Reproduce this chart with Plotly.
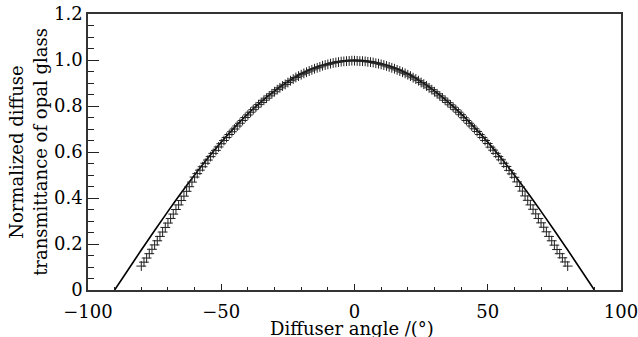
import plotly.graph_objects as go

# Theoretical curve (solid line)
line_angle = [-90, -85, -80, -75, -70, -65, -60, -55, -50, -45, -40, -35, -30, -25, -20, -15, -10, -5,
              0, 5, 10, 15, 20, 25, 30, 35, 40, 45, 50, 55, 60, 65, 70, 75, 80, 85, 90]
line_value = [0.000, 0.087, 0.174, 0.259, 0.342, 0.423, 0.500, 0.574, 0.643, 0.707, 0.766, 0.819,
              0.866, 0.906, 0.940, 0.966, 0.985, 0.996, 1.000, 0.996, 0.985, 0.966, 0.940, 0.906,
              0.866, 0.819, 0.766, 0.707, 0.643, 0.574, 0.500, 0.423, 0.342, 0.259, 0.174, 0.087, 0.000]

# Measured points (+ markers), one per degree from -80 to 80
meas_angle = list(range(-80, 81))
meas_value = [
    0.104, 0.121, 0.139, 0.158, 0.177, 0.196, 0.214, 0.233, 0.252, 0.272,   # -80..-71
    0.291, 0.311, 0.330, 0.350, 0.370, 0.389, 0.408, 0.429, 0.449, 0.469,   # -70..-61
    0.491, 0.506, 0.521, 0.536, 0.551, 0.565, 0.580, 0.594, 0.607, 0.622,   # -60..-51
    0.636, 0.650, 0.663, 0.676, 0.688, 0.700, 0.713, 0.725, 0.737, 0.750,   # -50..-41
    0.761, 0.773, 0.784, 0.795, 0.806, 0.815, 0.825, 0.834, 0.844, 0.853,   # -40..-31
    0.862, 0.871, 0.879, 0.887, 0.894, 0.902, 0.910, 0.917, 0.924, 0.930,   # -30..-21
    0.936, 0.942, 0.947, 0.952, 0.957, 0.962, 0.966, 0.970, 0.975, 0.978,   # -20..-11
    0.981, 0.984, 0.987, 0.989, 0.991, 0.993, 0.994, 0.995, 0.996, 0.997,   # -10..-1
    0.997,                                                                  # 0
    0.996, 0.995, 0.995, 0.994, 0.992, 0.991, 0.989, 0.986, 0.984, 0.981,   # 1..10
    0.978, 0.974, 0.970, 0.966, 0.962, 0.957, 0.952, 0.947, 0.942, 0.936,   # 11..20
    0.930, 0.923, 0.917, 0.910, 0.902, 0.895, 0.887, 0.879, 0.871, 0.862,   # 21..30
    0.853, 0.844, 0.835, 0.825, 0.815, 0.805, 0.795, 0.784, 0.773, 0.762,   # 31..40
    0.749, 0.737, 0.725, 0.713, 0.701, 0.689, 0.676, 0.663, 0.650, 0.637,   # 41..50
    0.621, 0.608, 0.594, 0.580, 0.566, 0.551, 0.537, 0.520, 0.505, 0.490,   # 51..60
    0.470, 0.450, 0.430, 0.409, 0.390, 0.370, 0.351, 0.331, 0.311, 0.292,   # 61..70
    0.273, 0.253, 0.233, 0.214, 0.195, 0.176, 0.158, 0.140, 0.122, 0.104,   # 71..80
]

x_ticks = [-100, -50, 0, 50, 100]
y_ticks = [0, 0.2, 0.4, 0.6, 0.8, 1.0, 1.2]
y_tick_text = ["0", "0.2", "0.4", "0.6", "0.8", "1.0", "1.2"]

FONT = "DejaVu Serif"
FS = 18

fig = go.Figure()
fig.add_trace(go.Scatter(
    x=line_angle, y=line_value, mode="lines",
    line=dict(color="black", width=1.6, shape="spline"),
    showlegend=False,
))
fig.add_trace(go.Scatter(
    x=meas_angle, y=meas_value, mode="markers",
    marker=dict(symbol="cross-thin", size=7, line=dict(color="#222", width=1)),
    showlegend=False,
))

fig.update_layout(
    width=638, height=337,
    margin=dict(l=88, r=17, t=14, b=47, autoexpand=False),
    paper_bgcolor="white", plot_bgcolor="white",
    font=dict(family=FONT, size=FS, color="black"),
)
fig.add_annotation(
    text="Diffuser angle /(°)", xref="paper", yref="paper", x=0.495, y=0,
    xanchor="center", yanchor="top", yshift=-26, showarrow=False,
    font=dict(family=FONT, size=FS, color="black"),
)
fig.update_xaxes(
    range=[-100, 100], tickvals=x_ticks, automargin=False,
    ticklabeloverflow="allow", ticklabelstandoff=5,
    ticks="inside", ticklen=6, tickwidth=1, tickcolor="#222",
    minor=dict(dtick=10, ticks="inside", ticklen=3.5, tickwidth=1, tickcolor="#222", showgrid=False),
    showline=True, linecolor="#333", linewidth=1.5, mirror=True,
    showgrid=False, zeroline=False,
    tickfont=dict(family=FONT, size=FS),
)
fig.update_yaxes(
    range=[0, 1.2], tickvals=y_ticks, ticktext=y_tick_text, automargin=False,
    ticklabeloverflow="allow",
    ticks="inside", ticklen=11, tickwidth=1, tickcolor="#222",
    minor=dict(dtick=0.05, ticks="inside", ticklen=6, tickwidth=1, tickcolor="#222", showgrid=False),
    showline=True, linecolor="#333", linewidth=1.5, mirror=True,
    showgrid=False, zeroline=False,
    title=dict(text="Normalized diffuse<br>transmittance of opal glass", standoff=2,
               font=dict(family=FONT, size=FS)),
    tickfont=dict(family=FONT, size=FS),
)

fig.write_html("out.html")
